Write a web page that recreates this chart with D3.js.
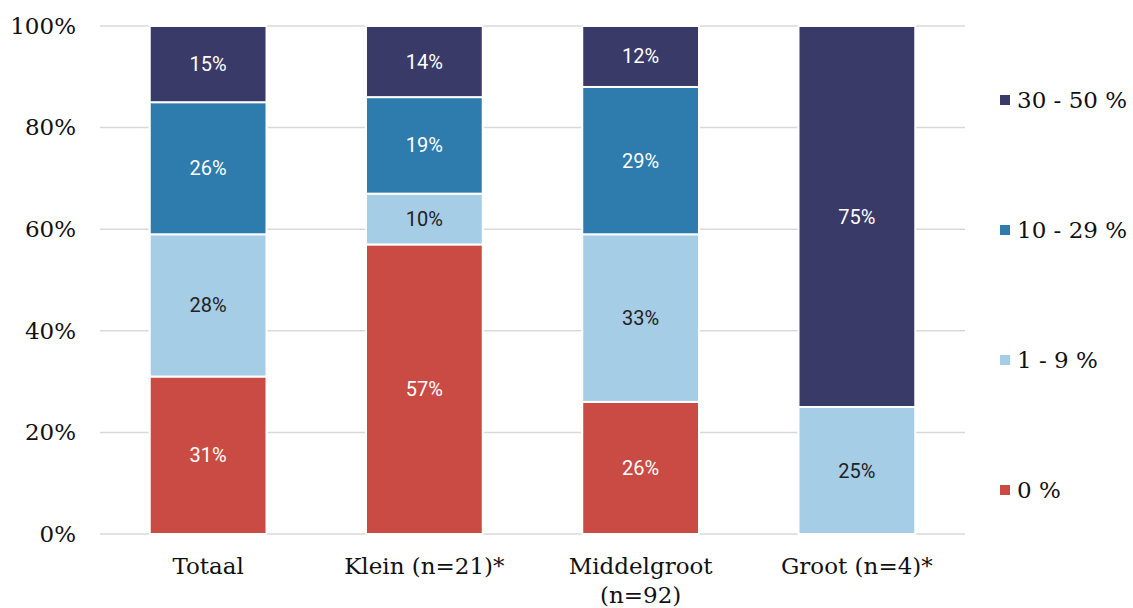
<!DOCTYPE html>
<html>
<head>
<meta charset="utf-8">
<script src="https://cdn.jsdelivr.net/npm/d3@7"></script>
<style>
  html, body { margin: 0; padding: 0; background: #fff; }
  svg { display: block; }
</style>
</head>
<body>
<svg id="chart" width="1133" height="608"></svg>
<script>
const categories = [["Totaal"], ["Klein (n=21)*"], ["Middelgroot", "(n=92)"], ["Groot (n=4)*"]];
const seriesNames = ["0 %", "1 - 9 %", "10 - 29 %", "30 - 50 %"];
const seriesColors = ["#c94b43", "#a5cde6", "#2e7bad", "#393a67"];
const labelColors = ["#ffffff", "#222222", "#ffffff", "#ffffff"];
const values0 = [31, 57, 26, 0];
const values1to9 = [28, 10, 33, 25];
const values10to29 = [26, 19, 29, 0];
const values30to50 = [15, 14, 12, 75];
const yTicks = [0, 20, 40, 60, 80, 100];

const seriesValues = [values0, values1to9, values10to29, values30to50];
const rows = categories.map((c, i) => {
  const r = { key: i };
  seriesNames.forEach((s, j) => r[s] = seriesValues[j][i]);
  return r;
});

const svg = d3.select("#chart");
const margin = { left: 100, right: 168, top: 26, bottom: 74 };
const W = 1133, H = 608;
const serif = "'DejaVu Serif', serif";

const x = d3.scaleBand().domain(d3.range(categories.length))
  .range([margin.left, W - margin.right]).paddingInner(0.46).paddingOuter(0.23);
const y = d3.scaleLinear().domain([0, 100]).range([H - margin.bottom, margin.top]);

// gridlines
svg.append("g").selectAll("line").data(yTicks).join("line")
  .attr("x1", margin.left).attr("x2", W - margin.right)
  .attr("y1", d => y(d)).attr("y2", d => y(d))
  .attr("stroke", "#d9d9d9").attr("stroke-width", 1.5);

// y axis labels
const yAxis = d3.axisLeft(y).tickValues(yTicks).tickFormat(d => d + "%").tickSize(0).tickPadding(0);
const yg = svg.append("g").attr("transform", `translate(76,0)`).call(yAxis);
yg.select(".domain").remove();
yg.selectAll("text").attr("font-family", serif).attr("font-size", 23).attr("fill", "#111");

// stacks
const stack = d3.stack().keys(seriesNames)(rows);
const groups = svg.append("g").selectAll("g").data(stack).join("g")
  .attr("fill", (d, i) => seriesColors[i]);
groups.selectAll("rect").data(d => d.filter(p => p[1] - p[0] > 0)).join("rect")
  .attr("x", d => x(d.data.key))
  .attr("width", x.bandwidth())
  .attr("y", d => y(d[1]))
  .attr("height", d => y(d[0]) - y(d[1]))
  .attr("stroke", "#fff").attr("stroke-width", 2);

// data labels
stack.forEach((s, i) => {
  svg.append("g").selectAll("text").data(s.filter(p => p[1] - p[0] > 0)).join("text")
    .attr("x", d => x(d.data.key) + x.bandwidth() / 2)
    .attr("y", d => (y(d[0]) + y(d[1])) / 2)
    .attr("dy", "0.35em")
    .attr("text-anchor", "middle")
    .attr("font-family", "Roboto, sans-serif")
    .attr("font-size", 20)
    .attr("fill", labelColors[i])
    .text(d => Math.round(d[1] - d[0]) + "%");
});

// x labels
const xl = svg.append("g").selectAll("text").data(categories.map((c, i) => ({ c, i }))).join("text")
  .attr("x", d => x(d.i) + x.bandwidth() / 2)
  .attr("y", 574)
  .attr("text-anchor", "middle")
  .attr("font-family", serif)
  .attr("font-size", 23)
  .attr("fill", "#111");
xl.selectAll("tspan").data(d => d.c).join("tspan")
  .attr("x", function () { return d3.select(this.parentNode).attr("x"); })
  .attr("dy", (d, j) => j === 0 ? 0 : 29)
  .text(d => d);

// legend
const legendOrder = [3, 2, 1, 0];
const lg = svg.append("g").selectAll("g").data(legendOrder).join("g")
  .attr("transform", (d, k) => `translate(1000, ${100 + k * 130})`);
lg.append("rect").attr("x", 0).attr("y", -5).attr("width", 10).attr("height", 10)
  .attr("fill", d => seriesColors[d]);
lg.append("text").attr("x", 17).attr("dy", "0.35em")
  .attr("font-family", serif).attr("font-size", 23).attr("fill", "#111")
  .text(d => seriesNames[d]);
</script>
</body>
</html>
